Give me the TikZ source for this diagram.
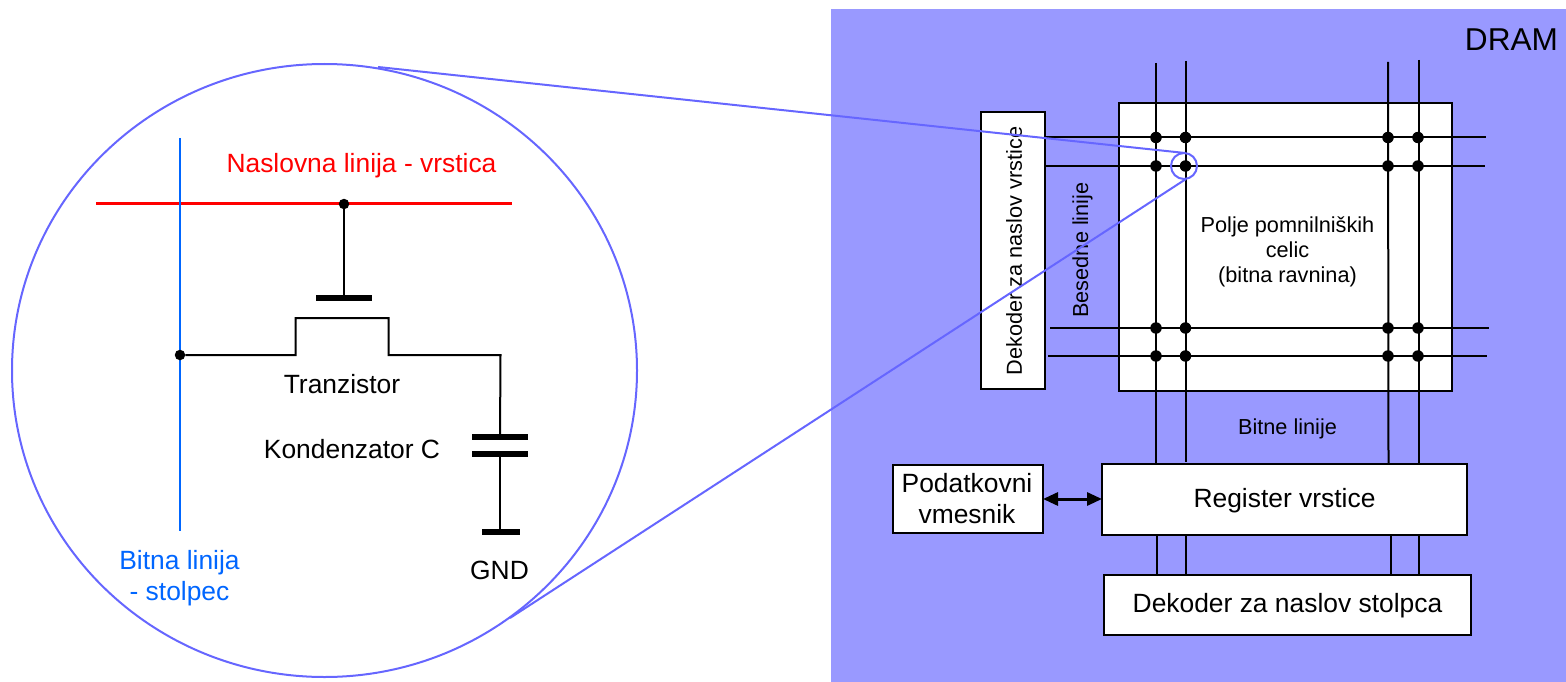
\documentclass[tikz,border=0pt]{standalone}
\usepackage{fontspec}
\setmainfont{Liberation Sans}
\usetikzlibrary{shapes.geometric,arrows.meta}
\definecolor{panel}{HTML}{9999FF}
\definecolor{zoomline}{HTML}{6666FF}
\definecolor{bitblue}{HTML}{0066FF}
\tikzset{
  boxA/.style={draw=black,fill=white,line width=2pt,minimum width=#1,inner sep=0pt,outer sep=0pt},
  wire/.style={line width=2pt,black},
  plate/.style={line width=5.5pt,black},
  junction/.style={circle,fill=black,draw=none,minimum size=#1,inner sep=0pt,outer sep=0pt},
  junction/.default=11.5pt,
  big/.style={font=\fontsize{26.4}{31}\selectfont,inner sep=0pt,align=center},
  small/.style={font=\fontsize{21.7}{25}\selectfont,inner sep=0pt,align=center},
  zoomed/.style={line width=2pt,zoomline},
}
\begin{document}
\begin{tikzpicture}[x=1pt,y=-1pt]
\useasboundingbox (0,0) rectangle (1566,682);
\fill[panel] (831,9) rectangle (1566,682);

% boxes
\node[boxA=333pt,minimum height=288pt] (array) at (1285.5,247) {};
\node[boxA=64pt,minimum height=277pt] (rowdec) at (1013,250.5) {};
\node[boxA=365pt,minimum height=71pt] (reg) at (1284.5,499.5) {};
\node[boxA=367pt,minimum height=60pt] (coldec) at (1287.5,605) {};
\node[boxA=150pt,minimum height=68pt] (buf) at (968,499) {};

% free ends of the array lines
\coordinate (t1) at (1156,63);
\coordinate (t2) at (1185.5,61);
\coordinate (t3) at (1388,62);
\coordinate (t4) at (1418.5,60);
\coordinate (b1) at (1156,464);
\coordinate (b2) at (1185.5,462);
\coordinate (b3) at (1388.5,464);
\coordinate (b4) at (1418.5,464);
\coordinate (l1) at (1045,137.5);
\coordinate (l2) at (1045,166);
\coordinate (l3) at (1050,328);
\coordinate (l4) at (1048,356);
\coordinate (r1) at (1486,137.5);
\coordinate (r2) at (1485,166);
\coordinate (r3) at (1489,328);
\coordinate (r4) at (1487,356);

\draw[wire] (t1) -- (b1);
\draw[wire] (t2) -- (b2);
\draw[wire] (t3) -- (b3);
\draw[wire] (t4) -- (b4);
\draw[wire] (l1) -- (r1);
\draw[wire] (l2) -- (r2);
\draw[wire] (l3) -- (r3);
\draw[wire] (l4) -- (r4);

% junctions
\foreach \n/\x in {1/1156,2/1185.5,3/1388,4/1418}{
  \foreach \m/\y in {1/137.5,2/166,3/328,4/356}{
    \node[junction] (j\n\m) at (\x,\y) {};
  }
}

% lines between register and column decoder
\foreach \n/\x in {1/1156.5,2/1186,3/1391,4/1419}{
  \coordinate (ra\n) at (\x,535);
  \coordinate (ca\n) at (\x,575);
  \draw[wire] (ra\n) -- (ca\n);
}

% buffer to register
\draw[line width=3pt,{Triangle[length=15pt,width=13pt]}-{Triangle[length=15pt,width=13pt]}] (buf.east) -- (reg.west |- buf.east);

% panel labels
\node[font=\fontsize{31.6}{36}\selectfont,inner sep=0pt] (dram) at (1511.5,40) {DRAM};
\node[small] (field) at (1287.5,251.5) {Polje pomnilniških\\celic\\(bitna ravnina)};
\node[small] (bitl) at (1287.5,429) {Bitne linije};
\node[small,rotate=90] (wordl) at (1082.5,250) {Besedne linije};
\node[small,rotate=90] (rowlab) at (1014,251) {Dekoder za naslov vrstice};
\node[big] (reglab) at (1284.5,501) {Register vrstice};
\node[big] (collab) at (1287.5,606) {Dekoder za naslov stolpca};
\node[big] (buflab) at (967,499) {Podatkovni\\vmesnik};

% circuit
\coordinate (redL) at (96,203.5);
\coordinate (redR) at (512,203.5);
\coordinate (bluT) at (180,138);
\coordinate (bluB) at (180,531);
\draw[line width=2.2pt,red] (redL) -- (redR);
\draw[line width=2.2pt,bitblue] (bluT) -- (bluB);

\node[junction=10.5pt] (gatedot) at (344,204) {};
\node[junction=10.5pt] (srcdot) at (180,355) {};
\coordinate (gatebar) at (344,298);
\coordinate (gL) at (316,298);
\coordinate (gR) at (372,298);
\draw[wire] (gatedot) -- (gatebar);
\draw[plate] (gL) -- (gR);
\coordinate (capT) at (500,437);
\coordinate (capB) at (500,454);
\coordinate (gnd) at (500,532);
\draw[wire,line join=miter] (srcdot) -- (295.5,355) -- (295.5,318) -- (388.5,318) -- (388.5,355) -- (500.5,355) -- (capT);
\draw[wire] (capB) -- (gnd);
\draw[plate] (472,437) -- (528,437);
\draw[plate] (472,454) -- (528,454);
\draw[plate] (482,532) -- (520,532);

\node[big,text=red] (addr) at (361.5,166) {Naslovna linija - vrstica};
\node[big] (tr) at (342,384) {Tranzistor};
\node[big] (cap) at (352,449) {Kondenzator C};
\node[big] (gndl) at (499.5,570) {GND};
\node[big,text=bitblue] (bitlab) at (179.5,578) {Bitna linija\\- stolpec};

% magnifier
\node[draw=zoomline,line width=2pt,ellipse,minimum width=625pt,minimum height=613pt,inner sep=0pt,outer sep=0pt] (lens) at (324.5,370.5) {};
\node[draw=zoomline,line width=2pt,circle,minimum size=26pt,inner sep=0pt,outer sep=0pt] (spot) at (1184,166) {};
\coordinate (lensT) at (378,67);
\coordinate (lensB) at (510,618);
\coordinate (spotT) at (1185,153);
\coordinate (spotB) at (1186,179);
\draw[zoomed] (lensT) -- (spotT);
\draw[zoomed] (lensB) -- (spotB);
\end{tikzpicture}
\end{document}
